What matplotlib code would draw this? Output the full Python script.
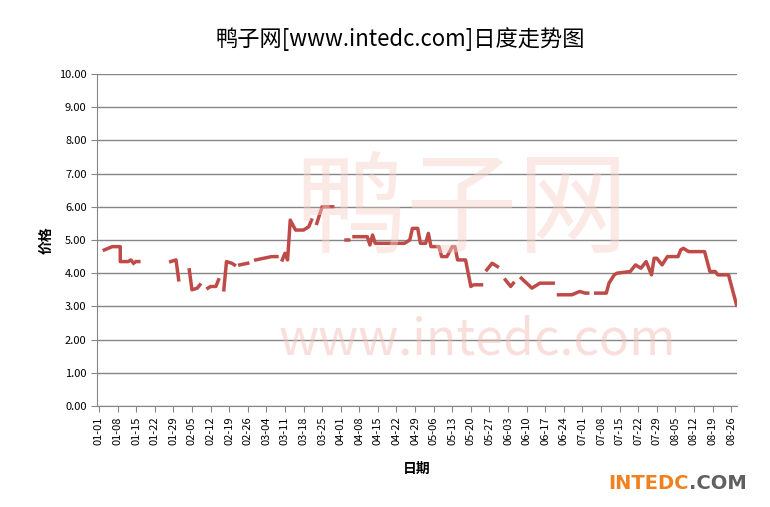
import matplotlib
matplotlib.use("Agg")
import matplotlib.pyplot as plt
import numpy as np
import datetime as dt

plt.rcParams['font.family'] = ['Noto Sans CJK SC', 'DejaVu Sans']
nan = np.nan
# day index (0 = 01-01) and price; nan marks gaps
days = [2,5,8,8,11,12,13,nan,14,15,nan,
        27,29,30,nan,34,35,37,38,nan,41,42,44,45,nan,47,48,50,51,nan,53,56,nan,
        59,62,65,67,nan,69,70,71,72,74,77,79,80,nan,82,84,88,nan,
        93,94,nan,96,101,102,103,104,115,117,118,120,121,122,123,124,125,128,129,131,133,134,135,138,140,141,144,nan,
        146,148,150,nan,153,155,156,nan,159,163,165,166,171,nan,173,178,181,183,184,nan,
        187,191,192,194,195,200,201,202,204,206,208,209,210,212,214,218,219,220,222,227,228,230,232,233,237,240]
vals = [4.7,4.8,4.8,4.35,4.35,4.4,4.3,nan,4.35,4.35,nan,
        4.35,4.4,3.8,nan,4.1,3.5,3.55,3.65,nan,3.55,3.6,3.6,3.8,nan,3.5,4.35,4.3,4.25,nan,4.25,4.3,nan,
        4.4,4.45,4.5,4.5,nan,4.4,4.6,4.4,5.6,5.3,5.3,5.4,5.6,nan,5.5,6.0,6.0,nan,
        5.0,5.0,nan,5.1,5.1,4.85,5.15,4.9,4.9,5.0,5.35,5.35,4.9,4.9,4.9,5.2,4.8,4.8,4.5,4.5,4.8,4.8,4.4,4.4,3.6,3.65,3.65,nan,
        4.1,4.3,4.2,nan,3.8,3.6,3.7,nan,3.85,3.55,3.65,3.7,3.7,nan,3.35,3.35,3.45,3.4,3.4,nan,
        3.4,3.4,3.7,3.95,4.0,4.05,4.15,4.25,4.15,4.35,3.95,4.45,4.45,4.25,4.5,4.5,4.7,4.75,4.65,4.65,4.65,4.05,4.05,3.95,3.95,3.05]
tick_days = list(range(0, 243, 7))
start = dt.date(2012, 1, 1)
tick_labels = [(start + dt.timedelta(days=d)).strftime("%m-%d") for d in tick_days]

fig = plt.figure(figsize=(7.7, 5.07), dpi=100)
ax = fig.add_axes([97/770, 1-406/507, 640/770, 332/507])
# watermark
fig.text(0.62, 0.30, "www.intedc.com", fontsize=36, color='#f5c0b8', alpha=0.5, ha='center', zorder=0)
fig.text(0.60, 0.52, "鸭子网", fontsize=80, color='#f8d0c8', alpha=0.45, ha='center', zorder=0)
ax.set_facecolor('none')
ax.plot(days, vals, color='#be4b48', lw=2.5, zorder=3)
ax.set_xlim(-0.75, 240.2)
ax.set_ylim(0, 10)
ax.set_yticks(np.arange(0, 10.01, 1))
ax.set_yticklabels([f"{v:.2f}" for v in np.arange(0, 10.01, 1)], fontsize=8)
ax.set_xticks(tick_days)
ax.set_xticklabels(tick_labels, rotation=90, fontsize=8)
ax.grid(axis='y', color='#868686', lw=1)
ax.set_axisbelow(True)
for s in ['top', 'right']:
    ax.spines[s].set_visible(False)
for s in ['left', 'bottom']:
    ax.spines[s].set_color('#868686')
ax.tick_params(axis='both', length=4, color='#868686')
ax.set_ylabel("价格", fontsize=10, fontweight='bold')
ax.set_xlabel("日期", fontsize=10, fontweight='bold', labelpad=12)
fig.text(0.52, 0.91, "鸭子网[www.intedc.com]日度走势图", fontsize=16, ha='center')
fig.text(0.79, 0.035, "INTEDC", fontsize=14, fontweight='bold', color='#f08020', family='DejaVu Sans')
fig.text(0.895, 0.035, ".COM", fontsize=14, fontweight='bold', color='#606060', family='DejaVu Sans')
fig.savefig("out.png", dpi=100)
